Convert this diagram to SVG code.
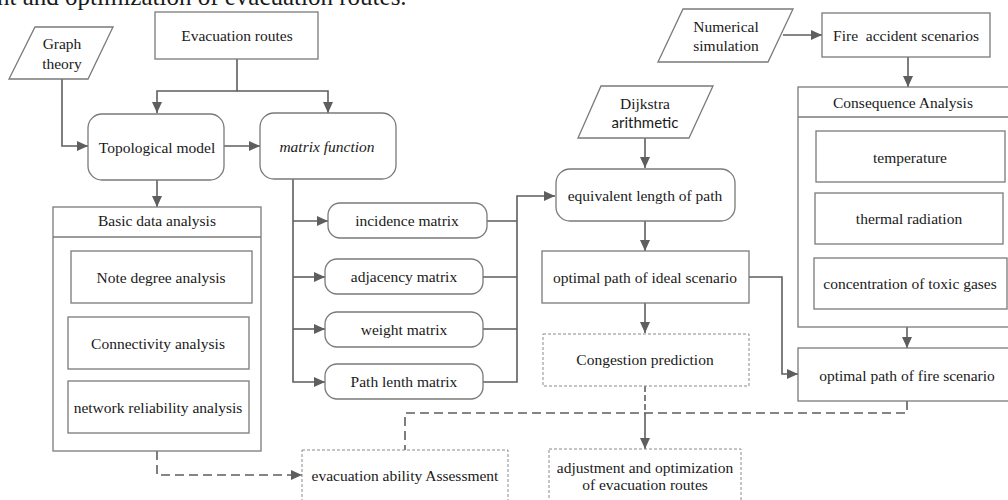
<svg xmlns="http://www.w3.org/2000/svg" width="1008" height="500" viewBox="0 0 1008 500">
<style>
text{font-family:"Liberation Serif","Times New Roman",serif;font-size:15.5px;fill:#1a1a1a;text-anchor:middle;dominant-baseline:central}
.box{fill:#fff;stroke:#7a7a7a;stroke-width:1.3}
.dot{fill:#fff;stroke:#8a8a8a;stroke-width:1;stroke-dasharray:3 2}
.ln{fill:none;stroke:#5e5e5e;stroke-width:1.6}
.ds{fill:none;stroke:#5e5e5e;stroke-width:1.6;stroke-dasharray:9 5}
.sans{font-family:Lato,"Open Sans",sans-serif;font-size:15px}
</style>
<defs>
<marker id="ah" markerUnits="userSpaceOnUse" markerWidth="12" markerHeight="10" refX="11" refY="5" orient="auto">
<path d="M0,0 L11,5 L0,10 Z" fill="#5e5e5e"/>
</marker>
</defs>
<rect width="1008" height="500" fill="#fff"/>
<text x="-3" y="5" style="text-anchor:start;dominant-baseline:alphabetic;font-size:25px">nt and optimization of evacuation routes.</text>

<g id="connectors">
<path class="ln" d="M237,59 V91 H157 V113" marker-end="url(#ah)"/>
<path class="ln" d="M237,91 H328 V113" marker-end="url(#ah)"/>
<path class="ln" d="M62,79 V146 H88" marker-end="url(#ah)"/>
<path class="ln" d="M224,146 H260" marker-end="url(#ah)"/>
<path class="ln" d="M157,180 V207" marker-end="url(#ah)"/>
<path class="ln" d="M293,179 V382 H325" marker-end="url(#ah)"/>
<path class="ln" d="M293,221 H328" marker-end="url(#ah)"/>
<path class="ln" d="M293,277 H325" marker-end="url(#ah)"/>
<path class="ln" d="M293,329 H325" marker-end="url(#ah)"/>
<path class="ln" d="M487,221 H517 M483,277 H517 M483,329 H517"/>
<path class="ln" d="M483,382 H517 V196 H555" marker-end="url(#ah)"/>
<path class="ln" d="M645,138 V168" marker-end="url(#ah)"/>
<path class="ln" d="M645,221 V251" marker-end="url(#ah)"/>
<path class="ln" d="M645,303 V333" marker-end="url(#ah)"/>
<path class="ln" d="M749,277 H782 V374 H798" marker-end="url(#ah)"/>
<path class="ln" d="M783,35 H822" marker-end="url(#ah)"/>
<path class="ln" d="M908,57 V87" marker-end="url(#ah)"/>
<path class="ln" d="M907,327 V348" marker-end="url(#ah)"/>
<path class="ds" d="M645,386 V413" style="stroke-dasharray:6 3"/>
<path class="ln" d="M645,413 V449" marker-end="url(#ah)"/>
<path class="ds" d="M907,401 V413 H405 V450"/>
<path class="ds" d="M157,451 V475 H302" marker-end="url(#ah)"/>
</g>

<g id="graph-theory">
<polygon class="box" points="35,27 113,27 88,79 9,79"/>
<text x="62" y="43">Graph</text>
<text x="62" y="63">theory</text>
</g>

<g id="evacuation-routes">
<rect class="box" x="155" y="12" width="163" height="47"/>
<text x="237" y="35">Evacuation routes</text>
</g>

<g id="topological-model">
<rect class="box" x="88" y="114" width="136" height="66" rx="14"/>
<text x="157" y="147">Topological model</text>
</g>

<g id="matrix-function">
<rect class="box" x="260" y="113" width="136" height="66" rx="14"/>
<text x="327" y="146" font-style="italic">matrix function</text>
</g>

<g id="basic-data-analysis">
<rect class="box" x="53" y="207" width="208" height="244"/>
<line class="box" x1="53" y1="237" x2="261" y2="237"/>
<text x="157" y="220">Basic data analysis</text>
<rect class="box" x="71" y="251" width="181" height="52"/>
<text x="161" y="277">Note degree analysis</text>
<rect class="box" x="68" y="317" width="181" height="52"/>
<text x="158" y="343">Connectivity analysis</text>
<rect class="box" x="68" y="381" width="181" height="52"/>
<text x="158" y="407">network reliability analysis</text>
</g>

<g id="incidence-matrix">
<rect class="box" x="328" y="203" width="159" height="35" rx="12"/>
<text x="407" y="220">incidence matrix</text>
</g>
<g id="adjacency-matrix">
<rect class="box" x="325" y="259" width="158" height="35" rx="12"/>
<text x="404" y="276">adjacency matrix</text>
</g>
<g id="weight-matrix">
<rect class="box" x="325" y="312" width="158" height="35" rx="12"/>
<text x="404" y="329">weight matrix</text>
</g>
<g id="path-lenth-matrix">
<rect class="box" x="325" y="364" width="158" height="35" rx="12"/>
<text x="404" y="381">Path lenth matrix</text>
</g>

<g id="dijkstra">
<polygon class="box" points="601,86 713,86 689,138 578,138"/>
<text x="645" y="103">Dijkstra</text>
<text class="sans" x="645" y="122">arithmetic</text>
</g>

<g id="equivalent-length">
<rect class="box" x="556" y="169" width="179" height="52" rx="14"/>
<text x="645" y="195">equivalent length of path</text>
</g>

<g id="optimal-ideal">
<rect class="box" x="542" y="251" width="207" height="52"/>
<text x="645" y="277">optimal path of ideal scenario</text>
</g>

<g id="congestion-prediction">
<rect class="dot" x="543" y="334" width="206" height="52"/>
<text x="645" y="359">Congestion prediction</text>
</g>

<g id="numerical-simulation">
<polygon class="box" points="683,9 793,9 768,62 658,62"/>
<text x="726" y="26">Numerical</text>
<text x="726" y="45">simulation</text>
</g>

<g id="fire-accident-scenarios">
<rect class="box" x="822" y="13" width="168" height="44"/>
<text x="906" y="35" style="white-space:pre">Fire  accident scenarios</text>
</g>

<g id="consequence-analysis">
<rect class="box" x="798" y="87" width="214" height="240"/>
<line class="box" x1="798" y1="117" x2="1012" y2="117"/>
<text x="903" y="102">Consequence Analysis</text>
<rect class="box" x="816" y="131" width="189" height="51"/>
<text x="910" y="157">temperature</text>
<rect class="box" x="815" y="193" width="188" height="51"/>
<text x="909" y="218">thermal radiation</text>
<rect class="box" x="814" y="258" width="193" height="51"/>
<text x="910" y="283">concentration of toxic gases</text>
</g>

<g id="optimal-fire">
<rect class="box" x="798" y="348" width="214" height="53"/>
<text x="907" y="375">optimal path of fire scenario</text>
</g>

<g id="evacuation-ability-assessment">
<rect class="dot" x="302" y="450" width="206" height="60"/>
<text x="405" y="475">evacuation ability Assessment</text>
</g>

<g id="adjustment-optimization">
<rect class="dot" x="549" y="449" width="192" height="60"/>
<text x="645" y="467">adjustment and optimization</text>
<text x="645" y="484">of evacuation routes</text>
</g>
</svg>
